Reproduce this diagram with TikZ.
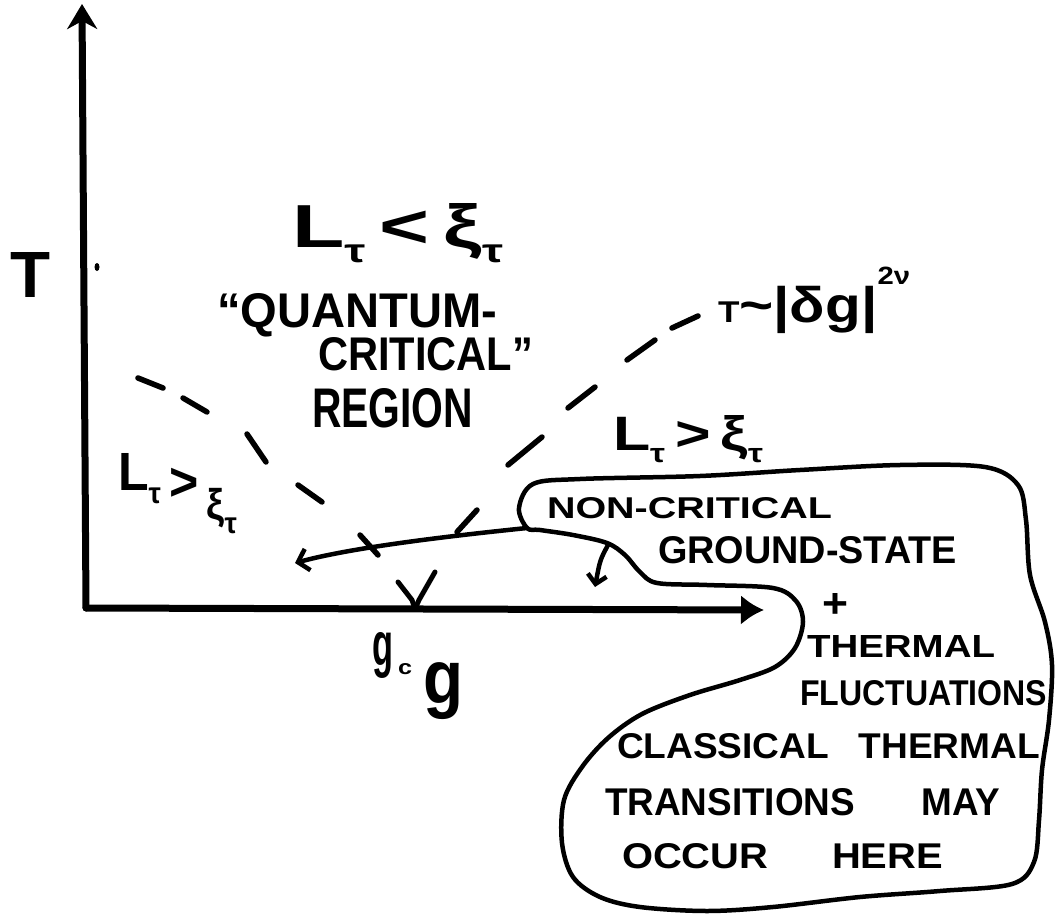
\documentclass[tikz,border=0pt]{standalone}
\usepackage{fontspec}
\setmainfont{Liberation Sans}
\usepackage{graphicx}
\usetikzlibrary{arrows.meta}
\newcommand{\fitbox}[3]{\resizebox{#1pt}{#2pt}{#3}}
\newcommand{\lo}[1]{\raisebox{-0.25em}{\scalebox{0.55}{#1}}}
\begin{document}
\begin{tikzpicture}[x=1pt,y=-1pt,
  axis/.style={line width=7pt, line cap=round},
  ink/.style={line width=4.5pt, line cap=round, line join=round},
  dsh/.style={line width=5.5pt, line cap=round},
  lbl/.style={inner sep=0pt, outer sep=0pt, anchor=base west, font=\bfseries},
  lbltop/.style={inner sep=0pt, outer sep=0pt, anchor=north west, font=\bfseries}]
\useasboundingbox (0,0) rectangle (1055,915);
% axes
\coordinate (O) at (86,608);
\coordinate (Ytop) at (82,4);
\coordinate (Xend) at (764,610);
\draw[axis, -{Stealth[length=25pt,width=30pt,inset=8pt]}] (O) -- (Ytop);
\draw[axis, -{Latex[length=23pt,width=30pt]}] (O) -- (Xend);
% V mark at g_c
\draw[ink, line width=5pt] (398,582) -- (412,600) -- (415,609);
\draw[ink, line width=5pt] (435,572) -- (419,600) -- (415,609);
% dot near T
\fill (97,267) ellipse [x radius=2.5pt, y radius=4pt];
% left dashed crossover
\draw[dsh] (138,378) -- (163,388);
\draw[dsh] (183,398) -- (207,412);
\draw[dsh] (247,434) -- (266,462);
\draw[dsh] (298,485) -- (322,502);
\draw[dsh] (360,535) -- (378,555);
% right dashed crossover
\draw[dsh] (457,532) -- (477,510);
\draw[dsh] (508,465) -- (542,437);
\draw[dsh] (568,408) -- (595,387);
\draw[dsh] (627,360) -- (655,340);
\draw[dsh] (672,328) -- (698,316);
% blob
\draw[ink] plot[smooth cycle, tension=0.55] coordinates {
  (527,528) (519,508) (533,484) (580,479) (700,476) (800,470) (900,465)
  (985,467) (1018,485) (1026,520) (1030,575) (1045,622) (1052,665)
  (1049,720) (1042,770) (1039,820) (1034,862) (1012,884) (940,891)
  (860,897) (773,907) (707,911) (640,907) (600,897) (573,877) (562,843)
  (564,800) (582,767) (608,738) (642,714) (690,695) (740,680) (775,667)
  (795,648) (803,622) (796,601) (773,588) (707,585) (657,583) (640,572)
  (625,555) (607,543) (573,535) (540,530)};
% arrows out of the blob
\coordinate (J) at (527,528);
\coordinate (Atip) at (295,563);
\coordinate (D1) at (608,545);
\coordinate (D2) at (595,587);
\draw[ink, -{Straight Barb[length=10pt,width=22pt]}] (J) .. controls (440,537) and (350,548) .. (Atip);
\draw[ink, -{Straight Barb[length=9pt,width=19pt]}] (D1) .. controls (600,560) .. (D2);
% labels
\node[lbl] (T) at (10,297) {\fitbox{40}{45}{T}};
\node[lbl] (Lqc) at (292,247) {\fitbox{211}{44}{L\lo{τ}\,<\,ξ\lo{τ}}};
\node[lbl] (q1) at (217,327) {\fitbox{280}{34}{“QUANTUM-}};
\node[lbl] (q2) at (318,370) {\fitbox{215}{33}{CRITICAL”}};
\node[lbl] (q3) at (312,427) {\fitbox{161}{39}{REGION}};
\node[lbl] (Lleft) at (118,490) {\fitbox{119}{37}{L\lo{τ}\,\raisebox{-0.2em}{>}\,\raisebox{-0.55em}{\scalebox{0.8}{ξ}\lo{τ}}}};
\node[lbl] (Lright) at (613,450) {\fitbox{150}{35}{L\lo{τ}\,>\,ξ\lo{τ}}};
\node[lbl] (Tlaw) at (718,322) {\fitbox{192}{55}{\scalebox{0.6}{T}\textasciitilde|δg|\raisebox{0.75em}{\scalebox{0.5}{2ν}}}};
\node[lbltop] (gc) at (372,632) {\resizebox*{21pt}{46pt}{g}};
\node[lbltop] (c) at (398,663) {\fitbox{14}{11}{c}};
\node[lbltop] (g) at (423,663) {\resizebox*{40pt}{57pt}{g}};
% blob text
\node[lbl] (b1) at (547,518) {\fitbox{285}{21}{NON-CRITICAL}};
\node[lbl] (b2) at (658,563) {\fitbox{299}{27}{GROUND-STATE}};
\node[inner sep=0pt, font=\bfseries] (b3) at (835,605) {\fitbox{26}{24}{+}};
\node[lbl] (b4) at (807,657) {\fitbox{188}{22}{THERMAL}};
\node[lbl] (b5) at (800,705) {\fitbox{247}{25}{FLUCTUATIONS}};
\node[lbl] (b6) at (617,758) {\fitbox{423}{25}{CLASSICAL\hspace{0.8em}THERMAL}};
\node[lbl] (b7) at (605,815) {\fitbox{395}{27}{TRANSITIONS\hspace{1.8em}MAY}};
\node[lbl] (b8) at (622,868) {\fitbox{321}{25}{OCCUR\hspace{1.6em}HERE}};
\end{tikzpicture}
\end{document}
